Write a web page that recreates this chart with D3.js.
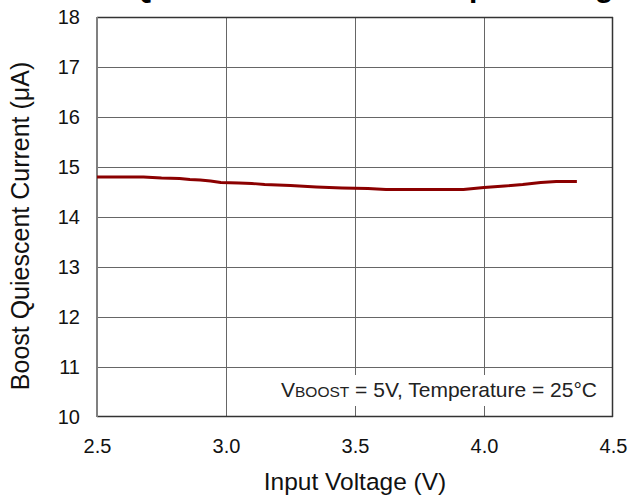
<!DOCTYPE html>
<html>
<head>
<meta charset="utf-8">
<script src="https://cdn.jsdelivr.net/npm/d3@7"></script>
<style>
  html, body { margin: 0; padding: 0; background: #fff; }
  svg { display: block; font-family: "Liberation Sans", Arial, sans-serif; }
</style>
</head>
<body>
<svg id="chart" width="628" height="496"></svg>
<script>
// Boost quiescent current vs input voltage, VBOOST = 5 V, 25 °C
const inputVoltage = [2.50, 2.60, 2.68, 2.75, 2.82, 2.86, 2.90, 2.94, 2.98, 3.05, 3.10, 3.15, 3.25, 3.35, 3.45, 3.55, 3.62, 3.70, 3.80, 3.92, 4.00, 4.08, 4.15, 4.22, 4.28, 4.36];
const quiescentCurrent = [14.80, 14.80, 14.80, 14.78, 14.77, 14.75, 14.74, 14.72, 14.69, 14.68, 14.67, 14.65, 14.63, 14.60, 14.58, 14.57, 14.55, 14.55, 14.55, 14.55, 14.59, 14.62, 14.65, 14.69, 14.71, 14.71];

const xTicks = [2.5, 3.0, 3.5, 4.0, 4.5];
const yTicks = [10, 11, 12, 13, 14, 15, 16, 17, 18];

const svg = d3.select("#chart");
const m = { left: 97, right: 613, top: 17, bottom: 417 };

const x = d3.scaleLinear().domain([2.5, 4.5]).range([m.left, m.right]);
const y = d3.scaleLinear().domain([10, 18]).range([m.bottom, m.top]);

// Title sits above the top edge; only its descenders reach into view
svg.append("text")
  .attr("x", 630).attr("y", -2.6)
  .attr("text-anchor", "end")
  .attr("font-size", 30).attr("font-weight", "bold")
  .attr("fill", "#000")
  .text("Boost Quiescent Current vs Input Voltage");

// Grid lines
const grid = svg.append("g").attr("stroke", "#666").attr("stroke-width", 1);
grid.selectAll("line.h").data(yTicks.slice(1, -1)).join("line")
  .attr("class", "h")
  .attr("x1", m.left).attr("x2", m.right)
  .attr("y1", d => Math.round(y(d)) + 0.5).attr("y2", d => Math.round(y(d)) + 0.5);
grid.selectAll("line.v").data(xTicks.slice(1, -1)).join("line")
  .attr("class", "v")
  .attr("y1", m.top).attr("y2", m.bottom)
  .attr("x1", d => Math.round(x(d)) + 0.5).attr("x2", d => Math.round(x(d)) + 0.5);

// Annotation box with white background over the grid
const note = svg.append("g");
note.append("rect")
  .attr("x", 276).attr("y", 375).attr("width", m.right - 277).attr("height", 31)
  .attr("fill", "#fff");
const noteText = note.append("text")
  .attr("x", 281).attr("y", 397)
  .attr("font-size", 21).attr("fill", "#222");
noteText.append("tspan").text("V");
noteText.append("tspan").attr("font-size", 15.5).text("BOOST");
noteText.append("tspan").text(" = 5V, Temperature = 25°C");

// Frame
svg.append("line").attr("x1", m.left).attr("x2", m.right).attr("y1", m.top + 0.5).attr("y2", m.top + 0.5)
  .attr("stroke", "#333").attr("stroke-width", 1.5);
svg.append("line").attr("x1", m.right - 0.5).attr("x2", m.right - 0.5).attr("y1", m.top).attr("y2", m.bottom)
  .attr("stroke", "#333").attr("stroke-width", 1.5);
svg.append("line").attr("x1", m.left).attr("x2", m.right).attr("y1", m.bottom - 0.5).attr("y2", m.bottom - 0.5)
  .attr("stroke", "#333").attr("stroke-width", 1.5);
svg.append("line").attr("x1", m.left).attr("x2", m.left).attr("y1", m.top).attr("y2", m.bottom)
  .attr("stroke", "#808080").attr("stroke-width", 2);

// Data line
const line = d3.line().x((d, i) => x(inputVoltage[i])).y(d => y(d));
svg.append("path")
  .datum(quiescentCurrent)
  .attr("d", line)
  .attr("fill", "none")
  .attr("stroke", "#8b0000")
  .attr("stroke-width", 2.8)
  .attr("stroke-linejoin", "round");

// Tick labels through d3 axes (domain and tick lines hidden)
const xAxis = svg.append("g")
  .attr("transform", `translate(0,${m.bottom})`)
  .call(d3.axisBottom(x).tickValues(xTicks).tickFormat(d3.format(".1f")).tickSize(0).tickPadding(22));
const yAxis = svg.append("g")
  .attr("transform", `translate(${m.left},0)`)
  .call(d3.axisLeft(y).tickValues(yTicks).tickFormat(d3.format("d")).tickSize(0).tickPadding(17));
[xAxis, yAxis].forEach(a => {
  a.select(".domain").remove();
  a.selectAll("text").attr("font-size", 20).attr("fill", "#111")
    .attr("font-family", "'Liberation Sans', Arial, sans-serif");
});

// Axis titles
svg.append("text")
  .attr("x", (m.left + m.right) / 2).attr("y", 490)
  .attr("text-anchor", "middle")
  .attr("font-size", 24.5).attr("fill", "#111")
  .text("Input Voltage (V)");
svg.append("text")
  .attr("transform", `translate(29,${(m.top + m.bottom) / 2 + 9}) rotate(-90)`)
  .attr("text-anchor", "middle")
  .attr("font-size", 25).attr("fill", "#111")
  .text("Boost Quiescent Current (μA)");
</script>
</body>
</html>
